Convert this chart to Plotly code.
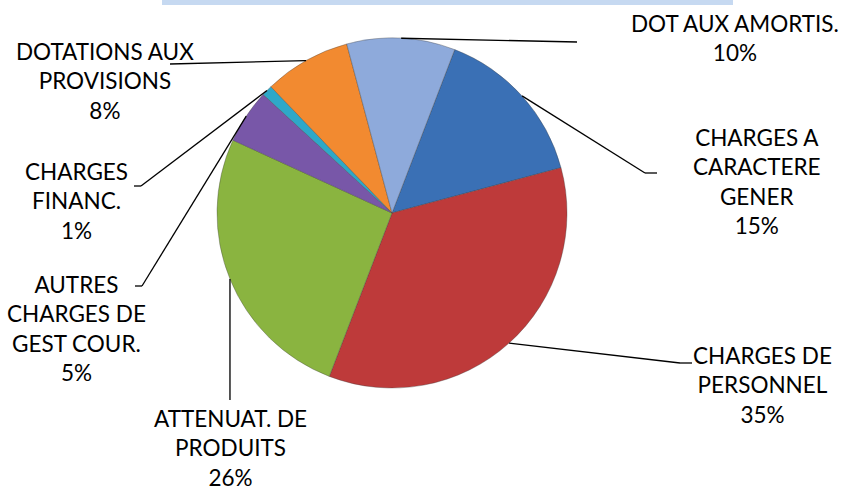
import math
import plotly.graph_objects as go

#%% data (share of charges, %)
labels = ['CHARGES A<br>CARACTERE<br>GENER', 'CHARGES DE<br>PERSONNEL', 'ATTENUAT. DE<br>PRODUITS',
          'AUTRES<br>CHARGES DE<br>GEST COUR.', 'CHARGES<br>FINANC.', 'DOTATIONS AUX<br>PROVISIONS',
          'DOT AUX AMORTIS.']
values = [15, 35, 26, 5, 1, 8, 10]
colors = ['#3A70B5', '#BE3A3A', '#8AB440', '#7857A8', '#2EA8C8', '#F28A30', '#8EAADB']

W, H = 843, 492
cx, cy, r = 392, 213, 175
rotation = 21

# label centres and leader elbows (pixels)
label_pos = [(757, 182), (762, 385), (230, 448), (76, 328), (76, 201), (105, 81), (735, 38)]
elbows = [[(645, 173), (657, 173)], [(680, 363), (692, 363)], [(230, 400)],
          [(142, 286), (135, 286)], [(141, 186), (134, 186)], [(170, 64)], [(577, 42)]]


def px(x, y):
    return x / W, 1 - y / H


fig = go.Figure(go.Pie(labels=labels, values=values, sort=False, direction='clockwise',
                       rotation=rotation, textinfo='none', hoverinfo='label+percent',
                       marker=dict(colors=colors, line=dict(color='rgba(60,60,60,0.35)', width=1)),
                       domain=dict(x=[(cx - r) / W, (cx + r) / W], y=[1 - (cy + r) / H, 1 - (cy - r) / H]),
                       showlegend=False))

total = sum(values)
shapes = [dict(type='rect', xref='paper', yref='paper', x0=162 / W, x1=733 / W, y0=1 - 5 / H, y1=1,
               fillcolor='#C6D9F1', line=dict(width=0))]
annotations = []
acc = 0
for lab, v, pos, elb in zip(labels, values, label_pos, elbows):
    mid = math.radians(rotation + (acc + v / 2) / total * 360)
    acc += v
    pts = [(cx + r * math.sin(mid), cy - r * math.cos(mid))] + elb
    for (x0, y0), (x1, y1) in zip(pts[:-1], pts[1:]):
        a0, b0 = px(x0, y0)
        a1, b1 = px(x1, y1)
        shapes.append(dict(type='line', xref='paper', yref='paper', x0=a0, y0=b0, x1=a1, y1=b1,
                           line=dict(color='black', width=1.3)))
    pct = round(v / total * 100)
    tx, ty = px(*pos)
    annotations.append(dict(text=f'{lab}<br>{pct}%', x=tx, y=ty, xref='paper', yref='paper',
                            xanchor='center', yanchor='middle', align='center', showarrow=False,
                            font=dict(family='Lato', size=22.5, color='black')))

fig.update_layout(width=W, height=H, margin=dict(l=0, r=0, t=0, b=0),
                  paper_bgcolor='white', plot_bgcolor='white',
                  shapes=shapes, annotations=annotations)

# drop the browser's default 8px body margin so the figure fills the window
fig.write_html("out.html", config={'displayModeBar': False},
               post_script="document.body.style.margin='0';")
